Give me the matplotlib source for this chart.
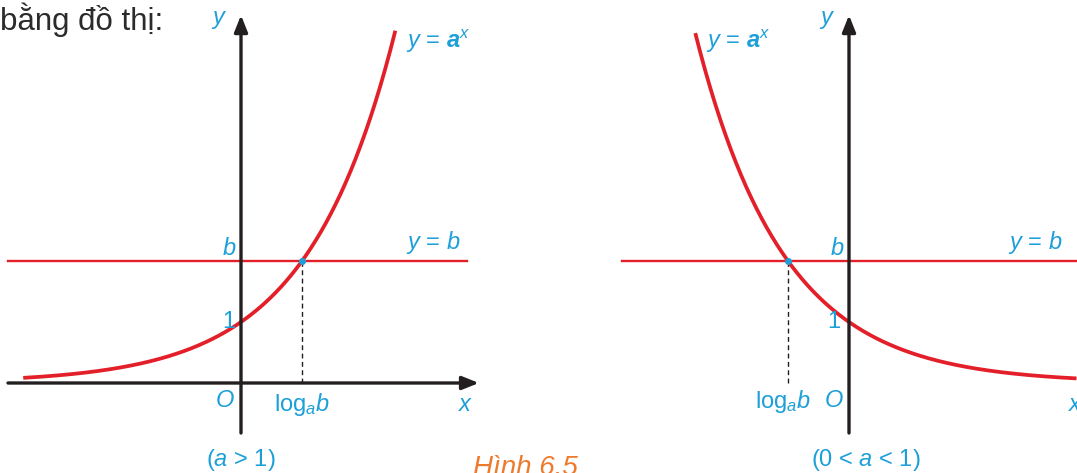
import numpy as np
import matplotlib.pyplot as plt

plt.rcParams['font.family'] = ['Liberation Sans', 'DejaVu Sans']
plt.rcParams['mathtext.fontset'] = 'custom'
plt.rcParams['mathtext.rm'] = 'Liberation Sans'
plt.rcParams['mathtext.it'] = 'Liberation Sans:italic'
plt.rcParams['mathtext.bf'] = 'Liberation Sans:italic:bold'

# du lieu: y = a^x va y = b
a_left = 2.0      # a > 1
a_right = 0.5     # 0 < a < 1
b = 2.0
x_left = np.linspace(-3.57, 2.53, 300)
x_right = np.linspace(-2.52, 3.73, 300)

blue = '#1d9fd8'
red = '#e3202a'
black = '#231f20'

W, H = 1077, 473
unit = 61.0   # pixel cho 1 don vi
fig = plt.figure(figsize=(W / 100, H / 100), dpi=100)

def make_axes(left_px, right_px, origin_px):
    ax = fig.add_axes([left_px / W, 0, (right_px - left_px) / W, 1])
    ax.set_xlim((left_px - origin_px) / unit, (right_px - origin_px) / unit)
    ax.set_ylim(-90 / unit, 383 / unit)
    ax.axis('off')
    ax.patch.set_alpha(0)
    return ax

def draw_axes(ax, x0, x1):
    style = '-|>,head_length=1.0,head_width=0.4'
    ax.annotate('', xy=(x1, 0), xytext=(x0, 0),
                arrowprops=dict(arrowstyle=style, color=black, lw=2.4,
                                shrinkA=0, shrinkB=0))
    ax.annotate('', xy=(0, 6.03), xytext=(0, -0.82),
                arrowprops=dict(arrowstyle=style, color=black, lw=2.4,
                                shrinkA=0, shrinkB=0))

fs = 17

# ---- hinh trai (a > 1)
ax1 = make_axes(0, 540, 241)
draw_axes(ax1, -3.82, 3.90)
ax1.plot([-3.82, 3.70], [b, b], color=red, lw=1.7)
ax1.plot(x_left, a_left ** x_left, color=red, lw=2.7, solid_capstyle='butt')
xb = np.log(b) / np.log(a_left)
ax1.plot([xb, xb], [0, b], color=black, lw=1, ls=(0, (3.5, 2.5)))
ax1.plot(xb, b, 'o', color=blue, ms=4)
ax1.text(-0.22, 5.95, r'$y$', color=blue, fontsize=fs, ha='right', va='center')
ax1.text(2.7, 5.6, r'$y$ = $\mathbf{a}^{x}$', color=blue, fontsize=fs, ha='left', va='center')
ax1.text(-0.08, 2.2, r'$b$', color=blue, fontsize=fs, ha='right', va='center')
ax1.text(2.7, 2.3, r'$y$ = $b$', color=blue, fontsize=fs, ha='left', va='center')
ax1.text(-0.1, 1.0, '1', color=blue, fontsize=fs, ha='right', va='center')
ax1.text(-0.1, -0.3, r'$O$', color=blue, fontsize=fs, ha='right', va='center')
ax1.text(xb, -0.36, r'$\mathrm{log}_{a}b$', color=blue, fontsize=fs, ha='center', va='center')
ax1.text(3.68, -0.36, r'$x$', color=blue, fontsize=fs, ha='center', va='center')
ax1.text(0, -1.26, r'($a$ > 1)', color=blue, fontsize=fs, ha='center', va='center')

fig.text(0.0, 1 - 20 / H, 'bằng đồ thị:', color='#2b2b2b', fontsize=22.5,
         ha='left', va='center')
fig.text(473 / W, 1 - 468 / H, 'Hình 6.5', color='#f07a2c', fontsize=20,
         style='italic', ha='left', va='center')

# ---- hinh phai (0 < a < 1)
ax2 = make_axes(540, 1077, 849)
draw_axes(ax2, -3.80, 3.80)
ax2.plot([-3.72, 3.74], [b, b], color=red, lw=1.7)
ax2.plot(x_right, a_right ** x_right, color=red, lw=2.7, solid_capstyle='butt')
xb2 = np.log(b) / np.log(a_right)
ax2.plot([xb2, xb2], [0, b], color=black, lw=1, ls=(0, (3.5, 2.5)))
ax2.plot(xb2, b, 'o', color=blue, ms=4)
ax2.text(-0.22, 5.95, r'$y$', color=blue, fontsize=fs, ha='right', va='center')
ax2.text(-2.35, 5.6, r'$y$ = $\mathbf{a}^{x}$', color=blue, fontsize=fs, ha='left', va='center')
ax2.text(-0.08, 2.2, r'$b$', color=blue, fontsize=fs, ha='right', va='center')
ax2.text(2.6, 2.3, r'$y$ = $b$', color=blue, fontsize=fs, ha='left', va='center')
ax2.text(-0.14, 1.0, '1', color=blue, fontsize=fs, ha='right', va='center')
ax2.text(-0.08, -0.3, r'$O$', color=blue, fontsize=fs, ha='right', va='center')
ax2.text(xb2 - 0.08, -0.3, r'$\mathrm{log}_{a}b$', color=blue, fontsize=fs, ha='center', va='center')
ax2.text(3.72, -0.36, r'$x$', color=blue, fontsize=fs, ha='center', va='center')
ax2.text(0.28, -1.26, r'(0 < $a$ < 1)', color=blue, fontsize=fs, ha='center', va='center')

fig.savefig('out.png', dpi=100)
